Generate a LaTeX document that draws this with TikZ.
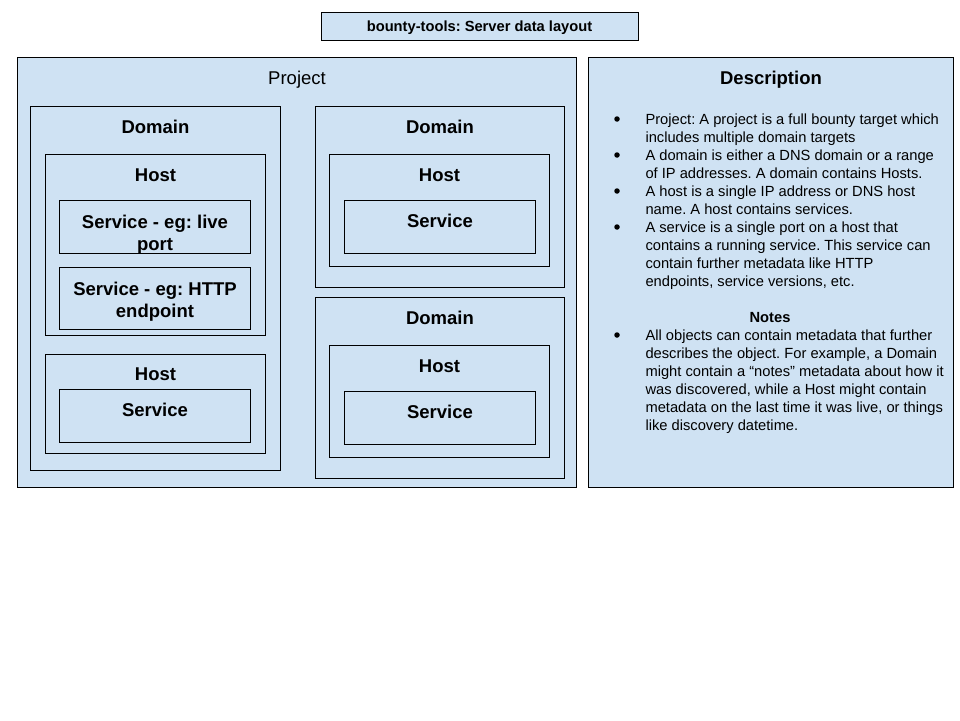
\documentclass[tikz,border=0pt]{standalone}
\usepackage{fontspec}
\setmainfont{Liberation Sans}
\frenchspacing
\usetikzlibrary{positioning}
\definecolor{boxblue}{HTML}{CFE2F3}
\tikzset{
  box/.style={draw=black, fill=boxblue, inner sep=0pt, anchor=north west},
  heading/.style={font=\bfseries\fontsize{18.5}{22}\selectfont, inner sep=0pt, anchor=base, align=center},
  plainheading/.style={font=\fontsize{18.5}{22}\selectfont, inner sep=0pt, anchor=base},
  desctext/.style={font=\fontsize{14.7}{18}\selectfont, inner sep=0pt, anchor=north west, align=left},
  dot/.style={circle, fill=black, minimum size=5.5pt, inner sep=0pt},
}
\tikzstyle{titlebox} = [draw=black, fill=boxblue, minimum width=317pt, minimum height=28pt,
  inner sep=0pt, font=\bfseries\fontsize{14.7}{18}\selectfont]

\begin{document}
\begin{tikzpicture}[x=1pt,y=1pt,line width=1pt]
  \useasboundingbox (0,0) rectangle (960,-720);

  \node[titlebox] (title) at (479.5,-26) {};
  \node[font=\bfseries\fontsize{14.7}{18}\selectfont,inner sep=0pt,anchor=base] (titletext) at ([yshift=-5.3]title.center) {bounty-tools: Server data layout};

  \node[box,minimum width=559,minimum height=430] (proj) at (17,-57) {};
  \node[box,minimum width=365,minimum height=430,below right=0 and 11 of proj.north east] (desc) {};
  \node[plainheading] (projtitle) at ([yshift=-27.5]proj.north) {Project};
  \node[heading] (desctitle) at ([yshift=-27.5]desc.north) {Description};

  % left domain
  \node[box,minimum width=250,minimum height=364,below right=49 and 13 of proj.north west] (domaina) {};
  \node[box,minimum width=220,minimum height=181,below right=48 and 15 of domaina.north west] (hosta1) {};
  \node[box,minimum width=191,minimum height=53,below right=46 and 14 of hosta1.north west] (servicea1) {};
  \node[box,minimum width=191,minimum height=62,below=13 of servicea1] (servicea2) {};
  \node[box,minimum width=220,minimum height=99,below=18 of hosta1] (hosta2) {};
  \node[box,minimum width=191,minimum height=53,below right=35 and 14 of hosta2.north west] (servicea3) {};
  \node[heading] (domainatitle) at ([yshift=-27.5]domaina.north) {Domain};
  \node[heading] (hosta1title) at ([yshift=-27.5]hosta1.north) {Host};
  \node[heading,anchor=north] (servicea1title) at ([yshift=-14.2]servicea1.north) {Service - eg: live\\port};
  \node[heading,anchor=north] (servicea2title) at ([yshift=-14.2]servicea2.north) {Service - eg: HTTP\\endpoint};
  \node[heading] (hosta2title) at ([yshift=-26.5]hosta2.north) {Host};
  \node[heading] (servicea3title) at ([yshift=-27.5]servicea3.north) {Service};

  % right domains
  \node[box,minimum width=249,minimum height=181,below right=49 and 298 of proj.north west] (domainb) {};
  \node[box,minimum width=220,minimum height=112,below right=48 and 14 of domainb.north west] (hostb) {};
  \node[box,minimum width=191,minimum height=53,below right=46 and 15 of hostb.north west] (serviceb) {};
  \node[box,minimum width=249,minimum height=181,below=9 of domainb] (domainc) {};
  \node[box,minimum width=220,minimum height=112,below right=48 and 14 of domainc.north west] (hostc) {};
  \node[box,minimum width=191,minimum height=53,below right=46 and 15 of hostc.north west] (servicec) {};
  \node[heading] (domainbtitle) at ([yshift=-27.5]domainb.north) {Domain};
  \node[heading] (hostbtitle) at ([yshift=-27.5]hostb.north) {Host};
  \node[heading] (servicebtitle) at ([yshift=-27.5]serviceb.north) {Service};
  \node[heading] (domainctitle) at ([yshift=-27.5]domainc.north) {Domain};
  \node[heading] (hostctitle) at ([yshift=-27.5]hostc.north) {Host};
  \node[heading] (servicectitle) at ([yshift=-27.5]servicec.north) {Service};

  % description
  \node[dot] (dot1) at (617,-119) {};
  \node[desctext] (desc1) at (645,-113.4) {Project: A project is a full bounty target which\\includes multiple domain targets};
  \node[dot] (dot2) at (617,-155) {};
  \node[desctext] (desc2) at (645,-149.4) {A domain is either a DNS domain or a range\\of IP addresses. A domain contains Hosts.};
  \node[dot] (dot3) at (617,-191) {};
  \node[desctext] (desc3) at (645,-185.4) {A host is a single IP address or DNS host\\name. A host contains services.};
  \node[dot] (dot4) at (617,-227) {};
  \node[desctext] (desc4) at (645,-221.4) {A service is a single port on a host that\\contains a running service. This service can\\contain further metadata like HTTP\\endpoints, service versions, etc.};
  \node[font=\bfseries\fontsize{14.7}{18}\selectfont,inner sep=0pt,anchor=base] (notestitle) at (770,-322) {Notes};
  \node[dot] (dot5) at (617,-335) {};
  \node[desctext] (notes1) at (645,-329.4) {All objects can contain metadata that further\\describes the object. For example, a Domain\\might contain a “notes” metadata about how it\\was discovered, while a Host might contain\\metadata on the last time it was live, or things\\like discovery datetime.};

\end{tikzpicture}
\end{document}
